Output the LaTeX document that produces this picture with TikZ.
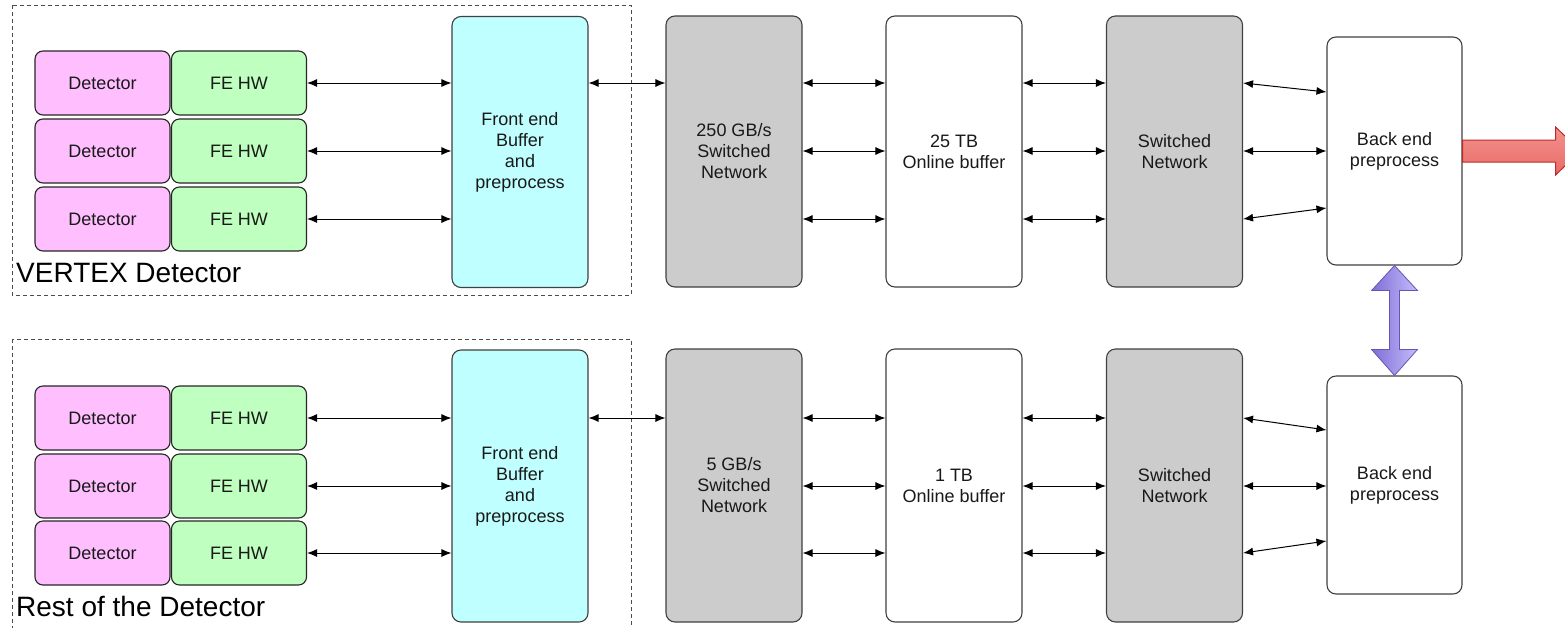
\documentclass[tikz,border=0pt]{standalone}
\usepackage{fontspec}
\setmainfont{Liberation Sans}
\usetikzlibrary{arrows.meta,calc}
\definecolor{detpink}{HTML}{FFBFFF}
\definecolor{fegreen}{HTML}{BFFFBF}
\definecolor{fbcyan}{HTML}{BFFFFF}
\definecolor{netgray}{HTML}{CCCCCC}
\definecolor{redfill}{HTML}{E86A66}
\definecolor{redtop}{HTML}{F39390}
\definecolor{redline}{HTML}{C02A26}
\definecolor{purpdark}{HTML}{7F6ED6}
\definecolor{purplight}{HTML}{C4BCFA}
\definecolor{purpline}{HTML}{6655B8}
\begin{document}
\begin{tikzpicture}[x=1pt,y=-1pt,
  txt/.style={font=\fontsize{18}{21}\selectfont, align=center, text=black!90},
  box/.style={txt, draw=black!75, line width=1.1pt, rounded corners=9pt, inner sep=0pt},
  bigbox/.style={box, minimum width=136pt, minimum height=271pt},
  smallbox/.style={box, draw=black!85, rounded corners=8pt, minimum width=135pt, minimum height=64pt},
  dashbox/.style={draw=black!70, line width=0.9pt, dash pattern=on 4pt off 3pt},
  arr/.style={{Latex[length=10pt,width=8pt]}-{Latex[length=10pt,width=8pt]}, line width=1pt},
  biglabel/.style={font=\fontsize{28}{32}\selectfont, anchor=base west, inner sep=0pt}]
\useasboundingbox (0,0) rectangle (1565,627);
\clip (0,0) rectangle (1565,627);
\fill[white] (0,0) rectangle (1565,627);

% dashed frames
\draw[dashbox] (12,5) rectangle (631,295);
\draw[dashbox] (12,339) rectangle (631,631);
\node[biglabel] (lv) at (16,282) {VERTEX Detector};
\node[biglabel] (lr) at (16,616) {Rest of the Detector};

% ---------- top chain ----------
\foreach \i/\y in {1/83,2/151,3/219}{
  \node[smallbox, fill=detpink] (td\i) at (102.5,\y) {Detector};
  \node[smallbox, fill=fegreen] (tf\i) at (239,\y) {FE HW};
}
\node[bigbox, fill=fbcyan] (tfb) at (520,152) {Front end\\Buffer\\and\\preprocess};
\node[bigbox, fill=netgray] (tnet) at (734,151.5) {250 GB/s\\Switched\\Network};
\node[bigbox, fill=white] (tbuf) at (954,151.5) {25 TB\\Online buffer};
\node[bigbox, fill=netgray] (tsw) at (1174.5,151.5) {Switched\\Network};
\node[box, fill=white, minimum width=135pt, minimum height=228pt] (tbe) at (1394.5,151) {Back end\\preprocess};

\foreach \i in {1,2,3}{
  \draw[arr] (tf\i.east) -- (tfb.west |- tf\i.east);
  \draw[arr] (tnet.east |- tf\i.east) -- (tbuf.west |- tf\i.east);
  \draw[arr] (tbuf.east |- tf\i.east) -- (tsw.west |- tf\i.east);
}
\draw[arr] (tfb.east |- tf1.east) -- (tnet.west |- tf1.east);
\draw[arr] (tsw.east |- tf1.east) -- ($(tbe.west |- tf1.east)+(0,9)$);
\draw[arr] (tsw.east |- tf2.east) -- (tbe.west |- tf2.east);
\draw[arr] (tsw.east |- tf3.east) -- ($(tbe.west |- tf3.east)+(0,-11)$);

% ---------- bottom chain ----------
\foreach \i/\y in {1/418,2/486,3/553}{
  \node[smallbox, fill=detpink] (bd\i) at (102.5,\y) {Detector};
  \node[smallbox, fill=fegreen] (bf\i) at (239,\y) {FE HW};
}
\node[bigbox, fill=fbcyan, minimum height=272pt] (bfb) at (520,486) {Front end\\Buffer\\and\\preprocess};
\node[bigbox, fill=netgray, minimum height=273pt] (bnet) at (734,485.5) {5 GB/s\\Switched\\Network};
\node[bigbox, fill=white, minimum height=273pt] (bbuf) at (954,485.5) {1 TB\\Online buffer};
\node[bigbox, fill=netgray, minimum height=273pt] (bsw) at (1174.5,485.5) {Switched\\Network};
\node[box, fill=white, minimum width=135pt, minimum height=218pt] (bbe) at (1394.5,485) {Back end\\preprocess};

\foreach \i in {1,2,3}{
  \draw[arr] (bf\i.east) -- (bfb.west |- bf\i.east);
  \draw[arr] (bnet.east |- bf\i.east) -- (bbuf.west |- bf\i.east);
  \draw[arr] (bbuf.east |- bf\i.east) -- (bsw.west |- bf\i.east);
}
\draw[arr] (bfb.east |- bf1.east) -- (bnet.west |- bf1.east);
\draw[arr] (bsw.east |- bf1.east) -- ($(bbe.west |- bf1.east)+(0,12)$);
\draw[arr] (bsw.east |- bf2.east) -- (bbe.west |- bf2.east);
\draw[arr] (bsw.east |- bf3.east) -- ($(bbe.west |- bf3.east)+(0,-12)$);

% ---------- red output arrow ----------
\coordinate (rs) at (tbe.east);
\shade[top color=redtop, bottom color=redfill, draw=redline, line width=1pt]
  ($(rs)+(0,-11)$) -- ($(rs)+(93,-11)$) -- ($(rs)+(93,-24)$) -- ($(rs)+(118,0)$)
  -- ($(rs)+(93,24)$) -- ($(rs)+(93,11)$) -- ($(rs)+(0,11)$) -- cycle;

% ---------- purple double arrow ----------
\coordinate (pt) at (tbe.south);
\coordinate (pb) at (bbe.north);
\shade[left color=purpdark, right color=purplight, draw=purpline, line width=0.8pt]
  (pt) -- ($(pt)+(23,25)$) -- ($(pt)+(5,25)$) -- ($(pb)+(5,-26)$) -- ($(pb)+(23,-26)$)
  -- (pb) -- ($(pb)+(-23,-26)$) -- ($(pb)+(-5,-26)$) -- ($(pt)+(-5,25)$)
  -- ($(pt)+(-23,25)$) -- cycle;
\end{tikzpicture}
\end{document}
